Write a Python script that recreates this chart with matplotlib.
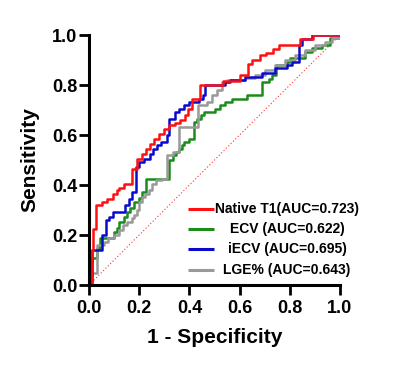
import matplotlib
matplotlib.use("Agg")
import matplotlib.pyplot as plt

plt.rcParams['font.family'] = ['Liberation Sans', 'DejaVu Sans']
plt.rcParams['font.weight'] = 'bold'

# ROC curves: (fpr at which tpr jumps, tpr after jump)
red_fpr = [0, 0.013, 0.016, 0.029, 0.05, 0.07, 0.095, 0.11, 0.12, 0.14, 0.173, 0.19, 0.21, 0.226,
           0.242, 0.259, 0.279, 0.299, 0.319, 0.342, 0.362, 0.382, 0.395, 0.412, 0.441, 0.532,
           0.601, 0.634, 0.651, 0.681, 0.707, 0.734, 0.758, 0.84, 0.894, 1.0]
red_tpr = [0, 0.14, 0.226, 0.32, 0.333, 0.346, 0.366, 0.38, 0.39, 0.406, 0.466, 0.506, 0.526, 0.546,
           0.566, 0.583, 0.606, 0.626, 0.64, 0.65, 0.66, 0.68, 0.706, 0.746, 0.8, 0.815,
           0.84, 0.886, 0.9, 0.92, 0.93, 0.946, 0.96, 0.985, 1.0, 1.0]

green_fpr = [0, 0.002, 0.012, 0.03, 0.045, 0.1, 0.11, 0.12, 0.14, 0.15, 0.165, 0.18, 0.2, 0.21,
             0.226, 0.32, 0.335, 0.345, 0.36, 0.37, 0.38, 0.4, 0.418, 0.43, 0.445, 0.46, 0.5,
             0.52, 0.54, 0.57, 0.63, 0.688, 0.717, 0.73, 0.746, 0.79, 0.8, 0.86, 0.89, 0.93,
             0.96, 1.0]
green_tpr = [0, 0.093, 0.107, 0.147, 0.187, 0.213, 0.227, 0.253, 0.273, 0.293, 0.307, 0.333, 0.347,
             0.373, 0.426, 0.5, 0.52, 0.533, 0.546, 0.56, 0.573, 0.586, 0.653, 0.666, 0.68, 0.693,
             0.706, 0.72, 0.733, 0.746, 0.76, 0.813, 0.826, 0.84, 0.88, 0.893, 0.907, 0.933,
             0.947, 0.96, 0.987, 1.0]

blue_fpr = [0, 0.008, 0.013, 0.05, 0.069, 0.08, 0.096, 0.145, 0.16, 0.173, 0.186, 0.2, 0.22, 0.242,
            0.255, 0.27, 0.285, 0.31, 0.32, 0.342, 0.36, 0.38, 0.4, 0.44, 0.455, 0.462, 0.54,
            0.56, 0.62, 0.69, 0.74, 0.79, 0.81, 0.838, 0.85, 0.89, 1.0]
blue_tpr = [0, 0.013, 0.14, 0.2, 0.26, 0.273, 0.293, 0.32, 0.346, 0.373, 0.473, 0.493, 0.506, 0.526,
            0.546, 0.56, 0.573, 0.6, 0.666, 0.693, 0.706, 0.72, 0.733, 0.746, 0.76, 0.8, 0.813,
            0.82, 0.833, 0.849, 0.867, 0.88, 0.893, 0.96, 0.986, 1.0, 1.0]

gray_fpr = [0, 0.0, 0.03, 0.06, 0.075, 0.1, 0.12, 0.135, 0.15, 0.17, 0.18, 0.19, 0.2, 0.21, 0.225,
            0.24, 0.25, 0.265, 0.29, 0.31, 0.335, 0.36, 0.435, 0.47, 0.49, 0.51, 0.53, 0.55, 0.62,
            0.66, 0.7, 0.74, 0.78, 0.82, 0.86, 0.9, 0.94, 0.97, 1.0]
gray_tpr = [0, 0.05, 0.16, 0.173, 0.187, 0.2, 0.22, 0.24, 0.253, 0.267, 0.28, 0.3, 0.333, 0.353,
            0.366, 0.38, 0.406, 0.42, 0.426, 0.52, 0.533, 0.633, 0.72, 0.733, 0.76, 0.78, 0.813,
            0.82, 0.827, 0.84, 0.86, 0.88, 0.9, 0.92, 0.94, 0.96, 0.973, 0.987, 1.0]

labels = ["Native T1(AUC=0.723)", "ECV (AUC=0.622)", "iECV (AUC=0.695)", "LGE% (AUC=0.643)"]
colors = ["#FF1010", "#1A8C1A", "#0A0ACC", "#999999"]
ticks = [0.0, 0.2, 0.4, 0.6, 0.8, 1.0]
tick_labels = ["0.0", "0.2", "0.4", "0.6", "0.8", "1.0"]

fig = plt.figure(figsize=(4, 3.7), dpi=100)
ax = fig.add_axes([0.2225, 0.2297, 0.6275, 0.6757])

ax.plot([0, 1], [0, 1], color="#FF3030", lw=0.8, ls=(0, (1, 2)))
curves = [(green_fpr, green_tpr, colors[1]), (gray_fpr, gray_tpr, colors[3]),
          (blue_fpr, blue_tpr, colors[2]), (red_fpr, red_tpr, colors[0])]
for fx, ty, c in curves:
    ax.plot(fx, ty, drawstyle='steps-post', color=c, lw=1.8)

# legend (manual, centered text)
leg_y = [0.304, 0.224, 0.144, 0.06]
for lab, c, yy in zip(labels, colors, leg_y):
    ax.plot([0.394, 0.498], [yy, yy], color=c, lw=2.2, solid_capstyle='butt')
    ax.text(0.789, yy, lab, ha='center', va='center', fontsize=10, fontweight='bold')

ax.set_xlim(0, 1)
ax.set_ylim(0, 1)
ax.set_xticks(ticks)
ax.set_xticklabels(tick_labels)
ax.set_yticks(ticks)
ax.set_yticklabels(tick_labels)
for s in ['top', 'right']:
    ax.spines[s].set_visible(False)
for s in ['left', 'bottom']:
    ax.spines[s].set_linewidth(2.2)
ax.tick_params(axis='both', length=7, width=2.0, labelsize=13)
ax.tick_params(axis='y', pad=1.5)
ax.tick_params(axis='x', pad=4)
for t in ax.get_xticklabels() + ax.get_yticklabels():
    t.set_fontweight('bold')
ax.set_xlabel("1 - Specificity", fontsize=15, fontweight='bold', labelpad=8)
ax.set_ylabel("Sensitivity", fontsize=15, fontweight='bold', labelpad=9)

fig.savefig("out.png", dpi=100)
